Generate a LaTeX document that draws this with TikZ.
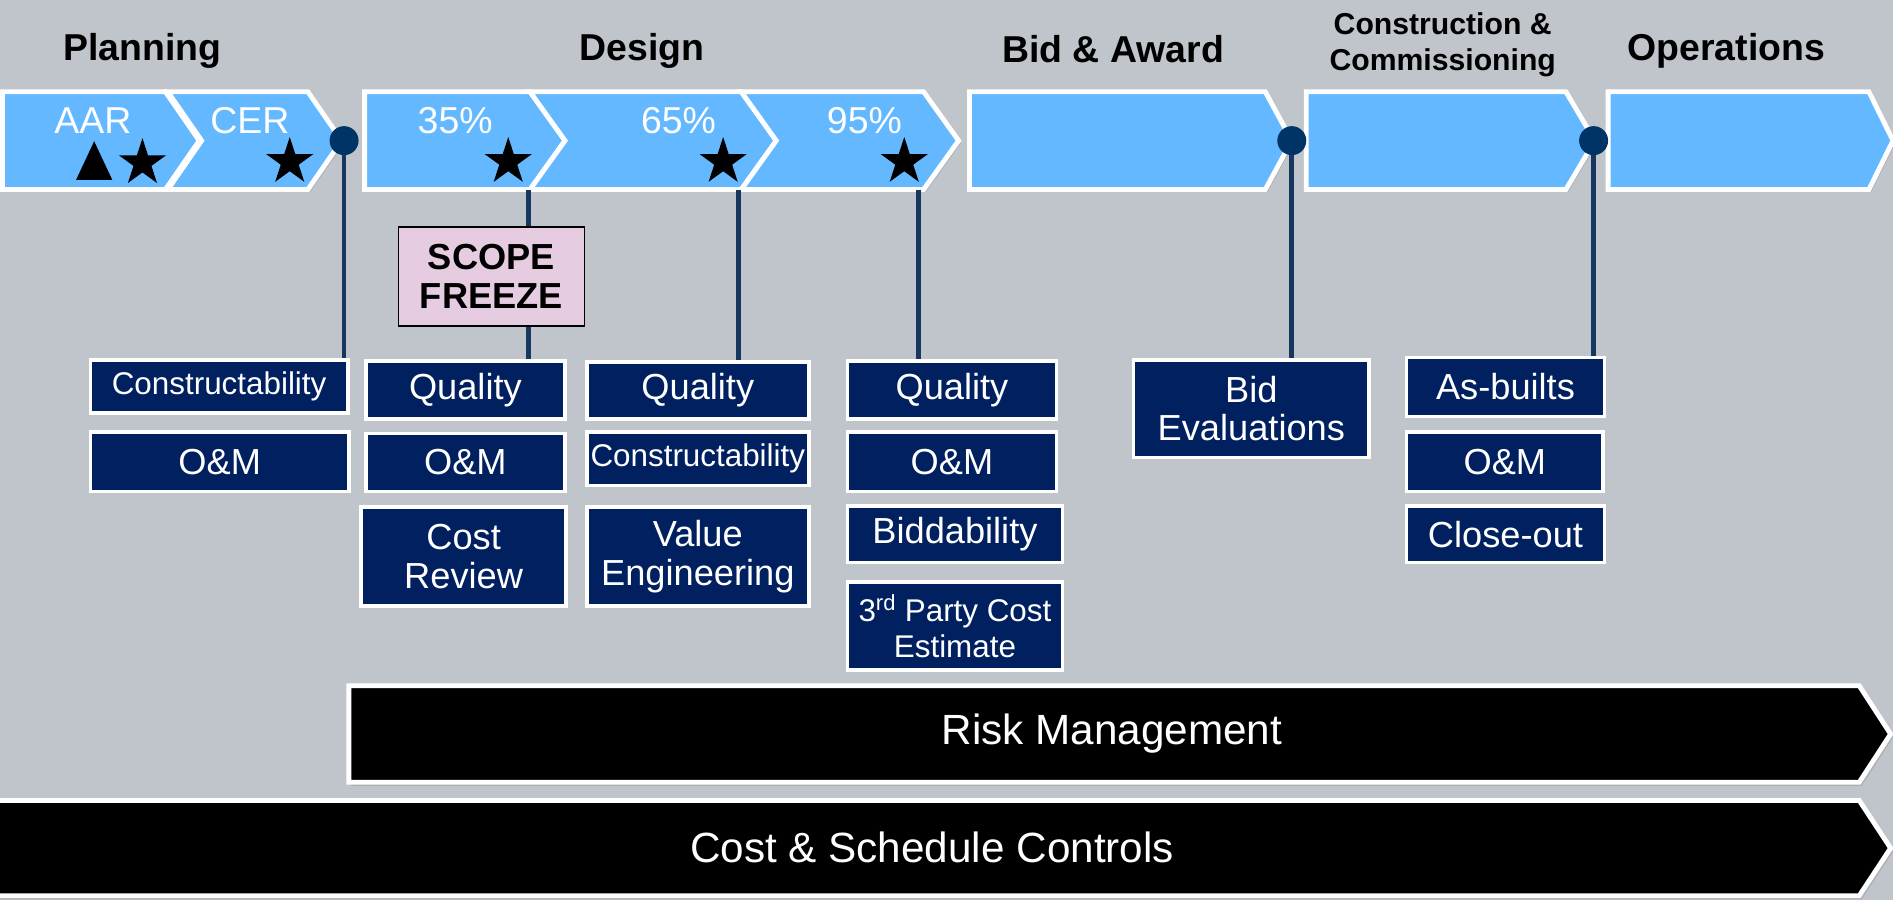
\documentclass[tikz,border=0pt]{standalone}
\usepackage{fontspec}
\setmainfont{Liberation Sans}
\usetikzlibrary{shapes.geometric,shadows}
\definecolor{bgGray}{RGB}{192,197,204}
\definecolor{chevBlue}{RGB}{100,184,255}
\definecolor{navy}{RGB}{0,32,96}
\definecolor{stemBlue}{RGB}{23,55,94}
\definecolor{mileBlue}{RGB}{0,51,102}
\definecolor{freezePink}{RGB}{230,204,224}
\newcommand{\fsz}[2]{\fontsize{#1}{#2}\selectfont}
\begin{document}
\begin{tikzpicture}[x=1pt, y=-1pt,
		every node/.style={font=\fsz{30}{32}},
		chevron/.style={fill=chevBlue, draw=white, line width=4pt,
				drop shadow={shadow xshift=2pt, shadow yshift=-2pt, opacity=0.3}},
		bar/.style={fill=black, draw=white, line width=4pt,
				drop shadow={shadow xshift=2pt, shadow yshift=-3pt, opacity=0.3}},
		phase/.style={font=\bfseries\fsz{31}{31}},
		stage/.style={text=white, font=\fsz{31}{31}},
		milestar/.style={star, star points=5, star point ratio=2.618, fill=black,
				inner sep=0pt, minimum size=41pt},
		mile/.style={circle, fill=mileBlue, inner sep=0pt, minimum size=24pt},
		stem/.style={draw=stemBlue, line width=4pt},
		review/.style={draw=white, line width=3pt, fill=navy, text=white,
				inner sep=0pt, align=center},
		small/.style={font=\fsz{26}{30}},
		bartext/.style={text=white, font=\fsz{35}{35}},
	]
	\useasboundingbox (0,0) rectangle (1568,745.5);
	\fill[bgGray] (0,0) rectangle (1568,745.5);

	% phase headers
	\node[phase] (hPlan) at (118,42) {Planning};
	\node[phase] (hDes) at (532,42) {Design};
	\node[phase] (hBid) at (922,41) {Bid \& Award};
	\node[phase, font=\bfseries\fsz{25}{30}, align=center] (hCon) at (1195,37) {Construction \&\\Commissioning};
	\node[phase] (hOps) at (1430,42) {Operations};

	% chevrons: left x / tip x / tip depth / notched
	\foreach \a/\b/\d/\n in {2/165/28/0, 139/283/28/1, 302/468/29/0, 439/643/29/1,
			614/794/29/1, 803/1070/22/0, 1082/1321/24/0, 1332/1568/20/0} {
			\draw[chevron] (\a,76) -- ({\b-\d},76) -- (\b,116.5) -- ({\b-\d},157)
			-- (\a,157) -- ({\a+\n*\d},116.5) -- cycle;
		}

	\node[stage] (aar) at (77,100) {AAR};
	\node[stage] (cer) at (207,100) {CER};
	\node[stage] (p35) at (377,100) {35\%};
	\node[stage] (p65) at (562,100) {65\%};
	\node[stage] (p95) at (716,100) {95\%};

	\fill (63,149) -- (78,117) -- (93,149) -- cycle;
	\node[milestar] (sAar) at (118,135) {};
	\node[milestar] (sCer) at (240,134) {};
	\node[milestar] (s35) at (421,134) {};
	\node[milestar] (s65) at (599,134) {};
	\node[milestar] (s95) at (749,134) {};

	\node[mile] (mPlan) at (285,116.5) {};
	\node[mile] (mBid) at (1070,116.5) {};
	\node[mile] (mCon) at (1320,116.5) {};

	\coordinate (t35) at (438,157);
	\coordinate (t65) at (612,157);
	\coordinate (t95) at (761,157);

	% review boxes
	\node[review, small, minimum width=213pt, minimum height=44pt] (c1a) at (181.5,320) {Constructability};
	\node[review, minimum width=214pt, minimum height=49pt] (c1b) at (182,382.5) {O\&M};

	\node[review, minimum width=165pt, minimum height=48pt] (c2a) at (385.5,323) {Quality};
	\node[review, minimum width=165pt, minimum height=48pt] (c2b) at (385.5,383) {O\&M};
	\node[review, minimum width=170pt, minimum height=82pt] (c2c) at (384,461) {Cost\\Review};

	\node[review, minimum width=184pt, minimum height=47pt] (c3a) at (578,323.5) {Quality};
	\node[review, small, minimum width=184pt, minimum height=44pt] (c3b) at (578,380) {Constructability};
	\node[review, minimum width=184pt, minimum height=82pt] (c3c) at (578,461) {Value\\Engineering};

	\node[review, minimum width=173pt, minimum height=48pt] (c4a) at (788.5,323) {Quality};
	\node[review, minimum width=173pt, minimum height=49pt] (c4b) at (788.5,382.5) {O\&M};
	\node[review, minimum width=178pt, minimum height=47pt] (c4c) at (791,442.5) {Biddability};
	\node[review, small, minimum width=178pt, minimum height=73pt] (c4d) at (791,518.5) {3\textsuperscript{rd} Party Cost\\Estimate};

	\node[review, minimum width=195pt, minimum height=81pt] (c5a) at (1036.5,338.5) {Bid\\Evaluations};

	\node[review, minimum width=164pt, minimum height=49pt] (c6a) at (1247,320.5) {As-builts};
	\node[review, minimum width=163pt, minimum height=49pt] (c6b) at (1246.5,382.5) {O\&M};
	\node[review, minimum width=164pt, minimum height=47pt] (c6c) at (1247,442.5) {Close-out};

	% stems
	\draw[stem] (mPlan) -- (mPlan |- c1a.north);
	\draw[stem] (t35) -- (t35 |- c2a.north);
	\draw[stem] (t65) -- (t65 |- c3a.north);
	\draw[stem] (t95) -- (t95 |- c4a.north);
	\draw[stem] (mBid) -- (mBid |- c5a.north);
	\draw[stem] (mCon) -- (mCon |- c6a.north);

	\node[draw=black, fill=freezePink, line width=1pt, inner sep=0pt, align=center,
		minimum width=154pt, minimum height=82pt, font=\bfseries\fsz{30}{32}] (scope) at (407,229) {SCOPE\\FREEZE};

	% bars
	\draw[bar] (289,568) -- (1540,568) -- (1566,608) -- (1540,648) -- (289,648) -- cycle;
	\node[bartext] (risk) at (921,608) {Risk Management};
	\draw[bar] (-5,663) -- (1540,663) -- (1566,702.5) -- (1540,742) -- (-5,742) -- cycle;
	\node[bartext] (cost) at (772,702) {Cost \& Schedule Controls};
\end{tikzpicture}
\end{document}
